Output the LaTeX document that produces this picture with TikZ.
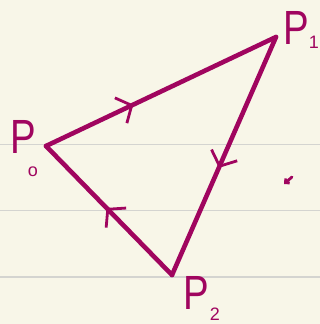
\documentclass[tikz,border=0pt]{standalone}
\usepackage{fontspec}
\setmainfont{Liberation Sans}
\usetikzlibrary{arrows.meta,decorations.markings}
\definecolor{paper}{HTML}{F8F6E8}
\definecolor{rule}{HTML}{D4D4D0}
\definecolor{ink}{HTML}{A0055F}
\tikzset{
  edge/.style={ink, line width=4.6pt, line cap=round, line join=miter},
  midarrow/.style={postaction={decorate, decoration={markings,
      mark=at position #1 with {\arrow{Straight Barb[length=12pt,width=28pt,line width=2.8pt]}}}}},
  lbl/.style={ink, inner sep=0pt, xscale=0.8, font=\fontsize{48}{48}\selectfont},
  sub/.style={ink, inner sep=0pt, font=\fontsize{18}{18}\selectfont},
}
\begin{document}
\begin{tikzpicture}[x=1pt,y=-1pt]
\fill[paper] (0,0) rectangle (320,324);
\useasboundingbox (0,0) rectangle (320,324);
\foreach \yy in {144.5,210.5,277}
  \draw[rule, line width=1.8pt] (0,\yy) -- (320,\yy);
\coordinate (p0) at (46,146);
\coordinate (p1) at (276,37);
\coordinate (p2) at (172,275);
\draw[edge, midarrow=0.38] (p0) -- (p1);
\draw[edge, midarrow=0.55] (p1) -- (p2);
\draw[edge, midarrow=0.52] (p2) -- (p0);
\node[lbl] (l0) at (23,137) {P};
\node[sub] (s0) at (33,172) {o};
\node[lbl] (l1) at (296,28) {P};
\node[sub] (s1) at (314,42) {1};
\node[lbl] (l2) at (196,293) {P};
\node[sub] (s2) at (215,314) {2};
\coordinate (x1) at (292,177);
\coordinate (x2) at (284,184);
\draw[ink, line width=2.8pt, line cap=round, -{Straight Barb[length=3pt,width=6pt]}] (x1) -- (x2);
\end{tikzpicture}
\end{document}
